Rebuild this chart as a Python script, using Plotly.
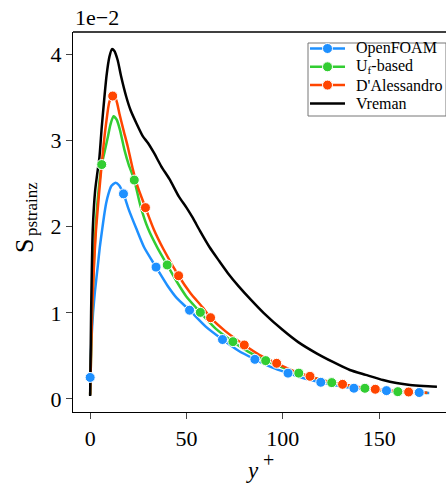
import plotly.graph_objects as go

# ---------------- data ----------------
names = ["OpenFOAM", "U<sub>f</sub>-based", "D'Alessandro", "Vreman"]

of_x = [0, 0.7, 1.5, 2.5, 4, 5, 6.2, 7.2, 8.3, 9.5, 11, 13.2, 15, 17.3, 20, 23.9, 28, 34.2,
        40, 45, 51.6, 60, 68.7, 77, 85.5, 94, 102.7, 111, 119.7, 128, 136.9, 145, 153.8,
        162, 170.8, 176]
of_y = [0.25, 0.7, 1.0, 1.25, 1.55, 1.76, 1.96, 2.12, 2.27, 2.38, 2.47, 2.51, 2.48, 2.38,
        2.2, 1.98, 1.76, 1.53, 1.32, 1.17, 1.03, 0.84, 0.69, 0.56, 0.46, 0.37, 0.30, 0.24,
        0.194, 0.155, 0.125, 0.11, 0.097, 0.085, 0.075, 0.07]
of_mx = [0, 17.3, 34.2, 51.6, 68.7, 85.5, 102.7, 119.7, 136.9, 153.8, 170.8]
of_my = [0.25, 2.38, 1.53, 1.03, 0.69, 0.46, 0.30, 0.194, 0.125, 0.097, 0.075]

uf_x = [0, 1, 2, 3, 4.5, 6.0, 7.5, 9.1, 10.5, 12.1, 13.8, 15.5, 17.8, 20, 22.9, 26, 30, 35,
        40, 45, 49.9, 57.2, 65, 74.1, 82, 91.1, 100, 108.3, 117, 125.4, 134, 142.6, 151,
        159.7, 168, 175]
uf_y = [0.05, 1.0, 1.6, 2.05, 2.45, 2.72, 2.87, 3.03, 3.18, 3.28, 3.24, 3.12, 2.89, 2.72,
        2.54, 2.25, 1.98, 1.75, 1.555, 1.36, 1.19, 1.005, 0.82, 0.665, 0.55, 0.445, 0.365,
        0.30, 0.24, 0.19, 0.155, 0.124, 0.10, 0.085, 0.077, 0.07]
uf_mx = [6.0, 22.9, 40.0, 57.2, 74.1, 91.1, 108.3, 125.4, 142.6, 159.7]
uf_my = [2.72, 2.54, 1.555, 1.005, 0.665, 0.445, 0.30, 0.19, 0.124, 0.085]

da_x = [0, 1, 2, 3, 4.5, 5.7, 7, 8.3, 10, 11.7, 13.5, 15.2, 17.3, 19.5, 22, 24.7, 28.7, 33,
        38, 45.9, 52, 58.5, 62.5, 70, 80, 88, 96.8, 105, 114.1, 122, 131, 140, 148, 157,
        165.3, 175]
da_y = [0.05, 1.0, 1.55, 1.95, 2.35, 2.65, 2.95, 3.2, 3.45, 3.515, 3.47, 3.31, 3.12, 2.93,
        2.68, 2.46, 2.22, 1.97, 1.74, 1.43, 1.23, 1.06, 0.943, 0.79, 0.626, 0.51, 0.414,
        0.33, 0.263, 0.21, 0.17, 0.137, 0.113, 0.095, 0.081, 0.072]
da_mx = [11.7, 28.7, 45.9, 62.5, 80.0, 96.8, 114.1, 131.0, 148.0, 165.3]
da_my = [3.515, 2.22, 1.43, 0.943, 0.626, 0.414, 0.263, 0.17, 0.113, 0.081]

vr_x = [0, 0.5, 1.35, 2.6, 3.6, 4.8, 6, 7.4, 8.5, 10, 11.3, 12.5, 14.3, 16, 18.7, 21, 24,
        27.3, 30, 33, 36.9, 41.2, 46, 50, 53.3, 57, 62, 67, 71.5, 77, 83.5, 90, 100, 108,
        117.5, 126, 134.8, 143, 152, 159, 166, 173, 180]
vr_y = [0.035, 1.0, 1.96, 2.42, 2.6, 2.8, 3.15, 3.5, 3.75, 3.97, 4.06, 4.04, 3.93, 3.75,
        3.51, 3.35, 3.2, 3.05, 2.97, 2.86, 2.7, 2.55, 2.35, 2.22, 2.1, 1.95, 1.76, 1.6,
        1.46, 1.31, 1.15, 1.0, 0.80, 0.66, 0.53, 0.43, 0.336, 0.28, 0.22, 0.185, 0.162,
        0.15, 0.143]

x_ticks = [0, 50, 100, 150]
y_ticks = [0, 1, 2, 3, 4]

colors = ["#1E90FF", "#32CD32", "#FF4500", "#000000"]
FONT = "Liberation Serif, Times New Roman, serif"

# plot-area geometry in pixels (used to place decorations in paper coords)
W, H = 446, 490
L, R, T, B = 73, 0, 32, 78
PW, PH = W - L - R, H - T - B


def px(x):
    return (x - L) / PW


def py(y):
    return (H - B - y) / PH


fig = go.Figure()

lines = [(of_x, of_y), (uf_x, uf_y), (da_x, da_y), (vr_x, vr_y)]
marks = [(of_mx, of_my), (uf_mx, uf_my), (da_mx, da_my)]

for (lx, ly), c, n in zip(lines, colors, names):
    fig.add_trace(go.Scatter(x=lx, y=ly, mode="lines", showlegend=False, name=n,
                             line=dict(color=c, width=2.5, shape="spline", smoothing=0.6)))
for (mx, my), c, n in zip(marks, colors, names):
    fig.add_trace(go.Scatter(x=mx, y=my, mode="markers", showlegend=False, name=n,
                             marker=dict(color=c, size=10, line=dict(color="white", width=1))))

axis_common = dict(showline=True, linecolor="black", linewidth=1.3, ticks="outside",
                   ticklen=6, tickwidth=1.3, tickcolor="#444", showgrid=False, zeroline=False,
                   tickfont=dict(family=FONT, size=22, color="black"))

# ---- hand-drawn legend (matplotlib-like compact frame) ----
shapes = [dict(type="line", xref="paper", yref="paper", x0=0, x1=1, y0=1, y1=1,
               line=dict(color="black", width=1.3))]
annotations = []
leg_left, leg_top, leg_bottom = 308, 43, 116
shapes.append(dict(type="rect", xref="paper", yref="paper", layer="above",
                   x0=px(leg_left), x1=px(446), y0=py(leg_bottom), y1=py(leg_top),
                   fillcolor="white", line=dict(color="#777", width=1)))
row_y = [48.5, 66.8, 85.1, 103.4]
for i, (n, c) in enumerate(zip(names, colors)):
    yy = py(row_y[i])
    shapes.append(dict(type="line", xref="paper", yref="paper", layer="above",
                       x0=px(310), x1=px(345), y0=yy, y1=yy,
                       line=dict(color=c, width=2.5)))
    if i < 3:
        shapes.append(dict(type="circle", xref="paper", yref="paper", layer="above",
                           xsizemode="pixel", ysizemode="pixel",
                           xanchor=px(327.5), yanchor=yy, x0=-5, x1=5, y0=-5, y1=5,
                           fillcolor=c, line=dict(color="white", width=1)))
    annotations.append(dict(text=n, xref="paper", yref="paper", x=px(354), y=yy,
                            xanchor="left", yanchor="middle", showarrow=False,
                            font=dict(family=FONT, size=16, color="black")))

annotations += [
    dict(text="1e\u22122", xref="paper", yref="paper", x=0, y=1, xanchor="left",
         yanchor="bottom", showarrow=False, font=dict(family=FONT, size=22)),
    # y-axis label: large "S" with a subscript "pstrainz"
    dict(text="S", xref="paper", yref="paper", x=px(24), y=py(246), xanchor="center",
         yanchor="middle", textangle=-90, showarrow=False, font=dict(family=FONT, size=26)),
    dict(text="pstrainz", xref="paper", yref="paper", x=px(31), y=py(209),
         xanchor="center", yanchor="middle", textangle=-90, showarrow=False,
         font=dict(family=FONT, size=17)),
    # x-axis label: italic y with superscript +
    dict(text="<i>y</i>", xref="paper", yref="paper", x=px(252), y=py(470),
         xanchor="center", yanchor="middle", showarrow=False, font=dict(family=FONT, size=23)),
    dict(text="+", xref="paper", yref="paper", x=px(268), y=py(460),
         xanchor="center", yanchor="middle", showarrow=False, font=dict(family=FONT, size=20)),
]

fig.update_layout(
    width=W, height=H,
    margin=dict(l=L, r=R, t=T, b=B),
    paper_bgcolor="white", plot_bgcolor="white",
    font=dict(family=FONT, color="black"),
    showlegend=False,
    xaxis=dict(range=[-8.9, 184.7], tickvals=x_ticks, **axis_common),
    yaxis=dict(range=[-0.151, 4.258], tickvals=y_ticks, **axis_common),
    shapes=shapes,
    annotations=annotations,
)

fig.write_html("out.html")
